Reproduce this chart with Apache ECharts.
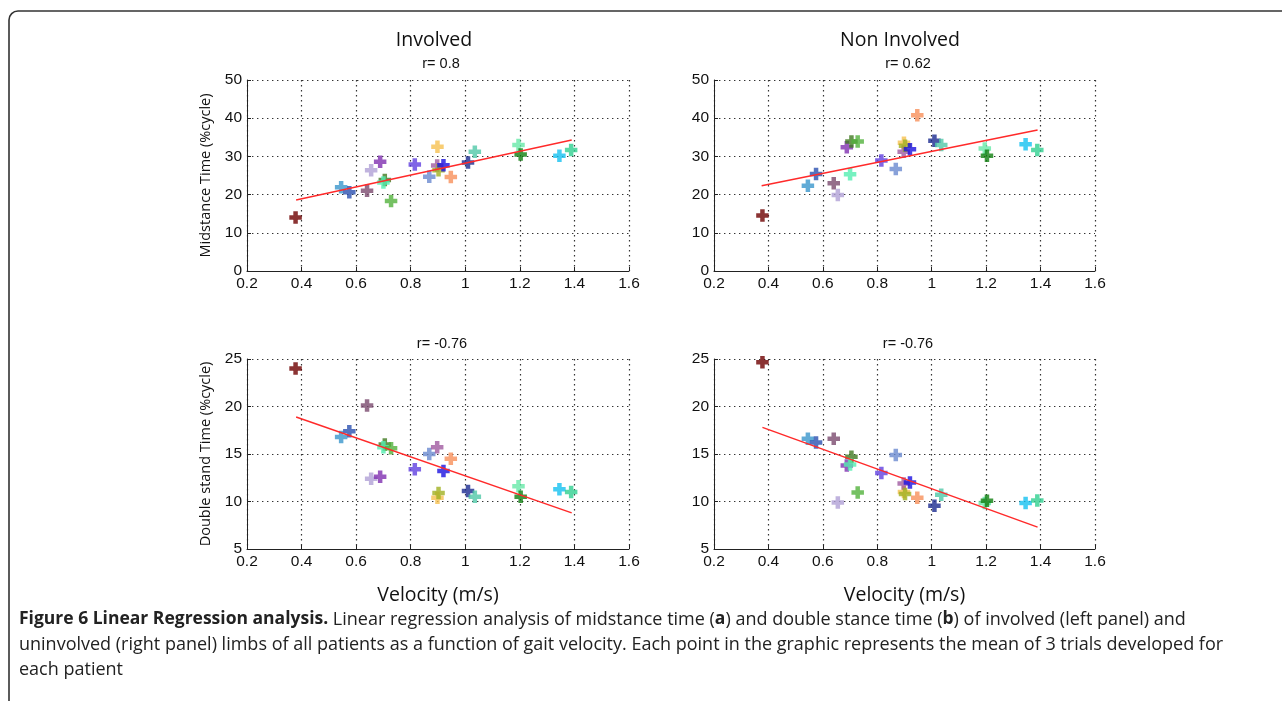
<!DOCTYPE html>
<html>
<head>
<meta charset="utf-8">
<script src="https://cdn.jsdelivr.net/npm/echarts@6/dist/echarts.min.js"></script>
<style>
  html, body { margin: 0; padding: 0; background: #fff; }
  #chart { width: 1282px; height: 701px; }
</style>
</head>
<body>
<div id="chart"></div>
<script>
// one entry per patient, same order in every array
const velocity = [0.378, 0.545, 0.575, 0.640, 0.655, 0.688, 0.705, 0.700, 0.728, 0.815, 0.868,
  0.898, 0.897, 0.902, 0.920, 0.947, 1.010, 1.035, 1.195, 1.203, 1.345, 1.388];
const patientColors = ['#6e0000', '#3a96cc', '#2a50b0', '#7a4a6e', '#b0a0d6', '#8030b0', '#407a20',
  '#54eeb0', '#52b23c', '#6040e0', '#6a8ad0', '#f6c050', '#a05aa0', '#a0b020', '#1a10e0',
  '#f8905a', '#1a2a90', '#50c8a8', '#66e8a8', '#108010', '#14c0f0', '#30d090'];

const midInvolved    = [14.0, 21.9, 20.6, 21.0, 26.4, 28.6, 23.8, 23.2, 18.3, 27.9, 24.7,
  32.5, 27.6, 26.4, 27.7, 24.6, 28.4, 31.2, 33.0, 30.5, 30.2, 31.7];
const midNonInvolved = [14.5, 22.3, 25.4, 23.0, 19.9, 32.4, 33.9, 25.3, 33.9, 28.9, 26.7,
  33.6, 31.2, 32.8, 31.9, 40.8, 34.1, 33.0, 32.1, 30.2, 33.2, 31.7];
const dblInvolved    = [24.0, 16.8, 17.4, 20.1, 12.4, 12.6, 16.0, 15.7, 15.6, 13.4, 15.0,
  10.4, 15.7, 10.9, 13.2, 14.5, 11.1, 10.5, 11.6, 10.5, 11.3, 11.0];
const dblNonInvolved = [24.65, 16.6, 16.2, 16.6, 9.9, 13.8, 14.7, 13.9, 10.95, 13.0, 14.9,
  11.0, 11.9, 10.8, 12.0, 10.4, 9.55, 10.7, 9.83, 10.08, 9.83, 10.1];

// regression line end points
const fitMidInvolved    = [[0.38, 18.6], [1.39, 34.3]];
const fitMidNonInvolved = [[0.375, 22.3], [1.389, 36.9]];
const fitDblInvolved    = [[0.38, 18.9], [1.39, 8.8]];
const fitDblNonInvolved = [[0.378, 17.8], [1.389, 7.3]];

const rValues = ['r= 0.8', 'r= 0.62', 'r= -0.76', 'r= -0.76'];
const xTicks = { min: 0.2, max: 1.6, interval: 0.2 };
const yTop = { min: 0, max: 50, interval: 10 };
const yBottom = { min: 5, max: 25, interval: 5 };

const marker = 'path://M3.2,0H6.8V3.2H10V6.8H6.8V10H3.2V6.8H0V3.2H3.2Z M5,1.2L8.8,5L5,8.8L1.2,5Z';

const tickFont = { fontFamily: 'Liberation Sans, Arial, sans-serif', fontSize: 15.5, color: '#111' };
const nameFont = { fontFamily: 'Open Sans, sans-serif', fontSize: 19.5, color: '#111' };
const gridDots = { color: '#333', type: [1.4, 3.6], width: 1.2 };

const grids = [
  { left: 247, top: 80, width: 382, height: 191 },
  { left: 714, top: 80, width: 381, height: 191 },
  { left: 247, top: 359, width: 382, height: 190 },
  { left: 714, top: 359, width: 381, height: 190 }
];

function xAxisFor(i, name) {
  return {
    type: 'value', gridIndex: i, min: xTicks.min, max: xTicks.max, interval: xTicks.interval,
    name: name, nameLocation: 'middle', nameGap: 36, nameTextStyle: nameFont,
    axisLine: { onZero: false, lineStyle: { color: '#222', width: 1 } },
    axisTick: { inside: true, length: 4, lineStyle: { color: '#222' } },
    axisLabel: Object.assign({ margin: 5 }, tickFont),
    splitLine: { show: true, lineStyle: gridDots }
  };
}
function yAxisFor(i, range, name) {
  return {
    type: 'value', gridIndex: i, min: range.min, max: range.max, interval: range.interval,
    name: name, nameLocation: 'middle', nameGap: 34,
    nameTextStyle: { fontFamily: 'Open Sans, sans-serif', fontSize: 14.5, color: '#111' },
    axisLine: { show: true, onZero: false, lineStyle: { color: '#222', width: 1 } },
    axisTick: { show: true, inside: true, length: 4, lineStyle: { color: '#222' } },
    axisLabel: Object.assign({ margin: 5 }, tickFont),
    splitLine: { show: true, lineStyle: gridDots }
  };
}

function scatterFor(i, values) {
  return {
    type: 'scatter', xAxisIndex: i, yAxisIndex: i, symbol: marker, symbolSize: 12.5,
    data: values.map((v, k) => ({ value: [velocity[k], v], itemStyle: { color: patientColors[k] } }))
  };
}
function fitFor(i, pts) {
  return {
    type: 'line', xAxisIndex: i, yAxisIndex: i, data: pts, showSymbol: false, symbol: 'none',
    lineStyle: { color: '#ff2a2a', width: 1.5 }, z: 3
  };
}

const titleFont = { fontFamily: 'Open Sans, sans-serif', fontSize: 19.5, fontWeight: 'normal', color: '#111' };
const rFont = { fontFamily: 'Liberation Sans, Arial, sans-serif', fontSize: 14.5, fontWeight: 'normal', color: '#111' };

const chart = echarts.init(document.getElementById('chart'));
chart.setOption({
  animation: false,
  title: [
    { text: 'Involved', left: 429, top: 25, textAlign: 'center', textStyle: titleFont },
    { text: 'Non Involved', left: 895, top: 25, textAlign: 'center', textStyle: titleFont },
    { text: rValues[0], left: 436, top: 51, textAlign: 'center', textStyle: rFont },
    { text: rValues[1], left: 903, top: 51, textAlign: 'center', textStyle: rFont },
    { text: rValues[2], left: 437, top: 331, textAlign: 'center', textStyle: rFont },
    { text: rValues[3], left: 903, top: 331, textAlign: 'center', textStyle: rFont }
  ],
  grid: grids,
  xAxis: [xAxisFor(0, ''), xAxisFor(1, ''), xAxisFor(2, 'Velocity (m/s)'), xAxisFor(3, 'Velocity (m/s)')],
  yAxis: [
    yAxisFor(0, yTop, 'Midstance Time (%cycle)'),
    yAxisFor(1, yTop, ''),
    yAxisFor(2, yBottom, 'Double stand Time (%cycle)'),
    yAxisFor(3, yBottom, '')
  ],
  series: [
    scatterFor(0, midInvolved), fitFor(0, fitMidInvolved),
    scatterFor(1, midNonInvolved), fitFor(1, fitMidNonInvolved),
    scatterFor(2, dblInvolved), fitFor(2, fitDblInvolved),
    scatterFor(3, dblNonInvolved), fitFor(3, fitDblNonInvolved)
  ],
  graphic: [
    {
      type: 'rect', silent: true,
      shape: { x: 9, y: 11, width: 1300, height: 740, r: 9 },
      style: { fill: 'none', stroke: '#333', lineWidth: 1.6 }
    },
    {
      type: 'text', left: 19, top: 607, silent: true,
      style: {
        text: '{b|Figure 6 Linear Regression analysis.} Linear regression analysis of midstance time ({b|a}) and double stance time ({b|b}) of involved (left panel) and\n' +
              'uninvolved (right panel) limbs of all patients as a function of gait velocity. Each point in the graphic represents the mean of 3 trials developed for\n' +
              'each patient',
        fontFamily: 'Open Sans, sans-serif', fontSize: 18, lineHeight: 25, fill: '#222',
        rich: {
          b: { fontFamily: 'Open Sans, sans-serif', fontSize: 17.5, fontWeight: 'bold', lineHeight: 25, fill: '#222' }
        }
      }
    }
  ]
});
</script>
</body>
</html>
